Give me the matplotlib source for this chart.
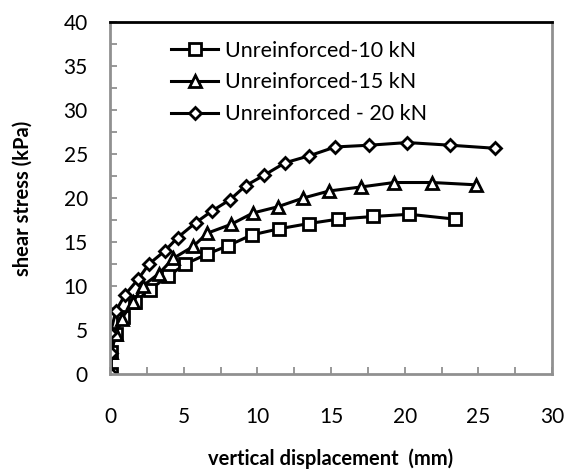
import matplotlib
matplotlib.use("Agg")
import matplotlib.pyplot as plt
from matplotlib.ticker import MultipleLocator

plt.rcParams['font.family'] = ['Lato', 'DejaVu Sans']

# series (displacement mm, shear stress kPa)
x_10 = [0.07, 0.07, 0.41, 0.90, 1.70, 2.71, 3.94, 5.11, 6.56, 8.03, 9.62,
        11.47, 13.51, 15.50, 17.87, 20.31, 23.42]
y_10 = [0.0, 2.5, 4.6, 6.5, 8.2, 9.6, 11.1, 12.5, 13.6, 14.6, 15.8,
        16.5, 17.1, 17.6, 17.9, 18.15, 17.6]

x_15 = [0.07, 0.07, 0.41, 0.79, 1.58, 2.22, 3.31, 4.30, 5.65, 6.60, 8.21,
        9.71, 11.38, 13.12, 14.88, 17.02, 19.28, 21.88, 24.82]
y_15 = [0.0, 2.5, 4.5, 6.3, 8.2, 10.0, 11.4, 13.15, 14.5, 16.0, 17.0,
        18.3, 19.0, 20.0, 20.8, 21.25, 21.76, 21.76, 21.5]

x_20 = [0.07, 0.07, 0.03, 0.41, 1.02, 1.92, 2.65, 3.73, 4.59, 5.82, 6.90,
        8.14, 9.21, 10.47, 11.88, 13.53, 15.29, 17.60, 20.18, 23.08, 26.13]
y_20 = [0.0, 2.4, 4.7, 7.2, 9.0, 10.8, 12.5, 14.0, 15.5, 17.2, 18.5,
        19.8, 21.4, 22.6, 24.0, 24.8, 25.8, 26.0, 26.3, 26.0, 25.65]

labels = ['Unreinforced-10 kN', 'Unreinforced-15 kN', 'Unreinforced - 20 kN']

fig = plt.figure(figsize=(5.66, 4.72), dpi=100)
ax = fig.add_axes([110 / 566, 1 - 374 / 472, 442 / 566, 352 / 472])

style = dict(color='black', lw=2.2, mfc='white', mec='black', mew=2.0)
ax.plot(x_10, y_10, marker='s', ms=8.5, label=labels[0], **style)
ax.plot(x_15, y_15, marker='^', ms=8.5, label=labels[1], **style)
ax.plot(x_20, y_20, marker='D', ms=6.5, label=labels[2], **style)

ax.set_xlim(0, 30)
ax.set_ylim(0, 40)
ax.xaxis.set_major_locator(MultipleLocator(5))
ax.xaxis.set_minor_locator(MultipleLocator(2.5))
ax.yaxis.set_major_locator(MultipleLocator(5))
ax.yaxis.set_minor_locator(MultipleLocator(2.5))

# short inward marks every 2.5, labels at every 5
ax.tick_params(which='both', direction='in', length=5, width=1.3,
               color='#909090', labelsize=15, top=False, right=False)
ax.tick_params(axis='x', which='major', pad=24)
ax.tick_params(axis='y', which='major', pad=16)

for side in ['left', 'right', 'bottom']:
    ax.spines[side].set_color('#909090')
    ax.spines[side].set_linewidth(2)
ax.spines['top'].set_color('black')
ax.spines['top'].set_linewidth(2)

ax.set_xlabel('vertical displacement  (mm)', fontsize=14.5, fontweight='bold')
ax.set_ylabel('shear stress (kPa)', fontsize=14.5, fontweight='bold')
ax.xaxis.set_label_coords(0.5, -0.212)
ax.yaxis.set_label_coords(-0.176, 0.5)

leg = ax.legend(loc='upper left', bbox_to_anchor=(0.105, 0.99), frameon=False,
                fontsize=15.5, handlelength=2.15, handletextpad=0.33,
                labelspacing=0.55, borderaxespad=0.3)

fig.savefig('out.png', dpi=100)
